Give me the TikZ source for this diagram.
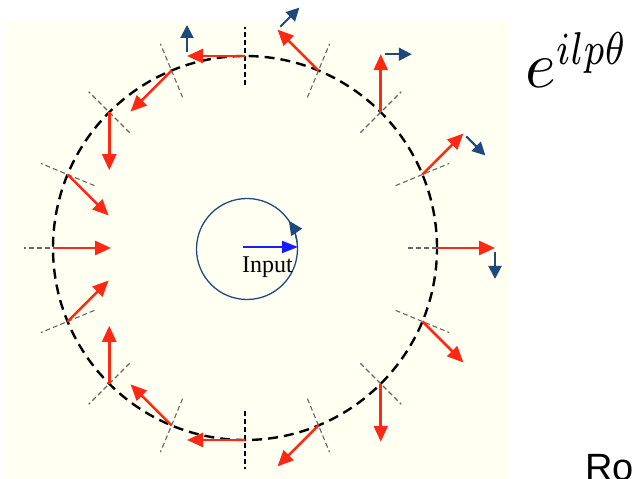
\documentclass[tikz,border=0pt]{standalone}
\usepackage{fontspec}
\usepackage{graphicx}
\usepackage{tikz}
\usetikzlibrary{arrows.meta,calc}
\newfontfamily\inputfont{Liberation Serif}
\newfontfamily\labelfont{Liberation Sans}
\definecolor{paper}{RGB}{255,255,242}
\definecolor{phasered}{RGB}{255,40,20}
\definecolor{phaseblue}{RGB}{31,73,125}
\definecolor{inputblue}{RGB}{20,30,255}

\begin{document}
\begin{tikzpicture}[x=1bp,y=1bp,
    ring/.style={black,line width=2.4bp,dash pattern=on 10bp off 6bp},
    radial/.style={line width=1.1bp,dash pattern=on 5bp off 3bp},
    phase/.style={phasered,line width=2.6bp,-{Triangle[length=16bp,width=14bp]}},
    spin/.style={phaseblue,line width=2bp,-{Triangle[length=13bp,width=13bp]}}]
    \clip (0,0) rectangle (636,479);
    \fill[paper] (6,0) rectangle (509,458);
    \coordinate (O) at (245,231);
    \draw[ring] (O) circle (192);
    \foreach \i in {0,...,15} {
      \pgfmathsetmacro\ang{22.5*\i}
      \ifnum\i=4 \def\rc{black}\else\ifnum\i=12 \def\rc{black}\else\def\rc{black!60}\fi\fi
      \coordinate (p\i) at ($(O)+(\ang:192)$);
      \coordinate (q\i) at ($(O)+(\ang:163)$);
      \coordinate (s\i) at ($(O)+(\ang:221)$);
      \coordinate (t\i) at ($(p\i)+(2*\ang:58)$);
      \draw[radial,draw=\rc] (q\i) -- (s\i);
      \draw[phase] (p\i) -- (t\i);
    }
    \foreach \i in {0,...,4} {
      \pgfmathsetmacro\ang{22.5*\i}
      \coordinate (u\i) at ($(t\i)+(2*\ang-90:4)$);
      \coordinate (v\i) at ($(t\i)+(2*\ang-90:31)$);
      \draw[spin] (u\i) -- (v\i);
    }
    \coordinate (C) at (247,230);
    \draw[phaseblue,line width=1.3bp] (C) circle (50.5);
    \draw[phaseblue,line width=1.3bp,-{Triangle[length=14bp,width=13bp]}] ($(C)+(8:50.5)$) arc[start angle=8,end angle=34,radius=50.5];
    \coordinate (inA) at (243,232);
    \coordinate (inB) at (298,232);
    \draw[inputblue,line width=2bp,-{Triangle[length=16bp,width=12bp]}] (inA) -- (inB);
    \node[anchor=base west,inner sep=0,font=\inputfont\fontsize{24bp}{26bp}\selectfont] (inlabel) at (242,206) {Input};
    \node[anchor=base west,inner sep=0,scale=6.6] (phase) at (524,391) {$e^{\scalebox{0.78}[1]{$\scriptstyle ilp\theta$}}$};
    \node[anchor=base west,inner sep=0,font=\labelfont\fontsize{38bp}{40bp}\selectfont] (rot) at (585,-2) {Ro};
  \end{tikzpicture}
\end{document}
